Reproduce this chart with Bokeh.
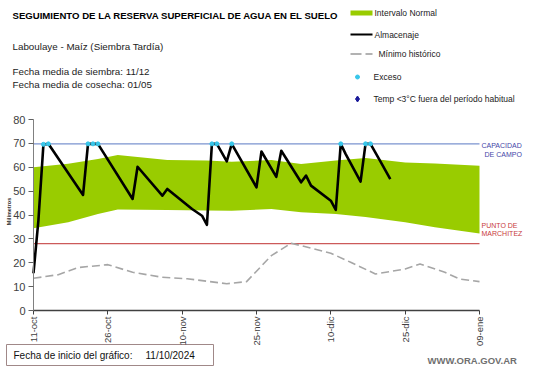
import pandas as pd
from math import pi
from bokeh.plotting import figure
from bokeh.models import Range1d, FixedTicker
from bokeh.core.properties import value
from bokeh.embed import file_html
from bokeh.resources import INLINE

# ---------------- data ----------------
START = "2024-10-11"
END = "2025-01-09"
tick_dates = ["2024-10-11", "2024-10-26", "2024-11-10", "2024-11-25",
              "2024-12-10", "2024-12-25", "2025-01-09"]
tick_labels = ["11-oct", "26-oct", "10-nov", "25-nov", "10-dic", "25-dic", "09-ene"]
y_ticks = [0, 10, 20, 30, 40, 50, 60, 70, 80]

normal_dates = ["2024-10-11", "2024-10-18", "2024-10-24", "2024-10-28", "2024-11-02",
                "2024-11-07", "2024-11-15", "2024-11-20", "2024-11-28", "2024-12-04",
                "2024-12-11", "2024-12-17", "2024-12-25", "2024-12-31", "2025-01-09"]
normal_upper = [60.0, 61.5, 63.5, 65.1, 64.1, 63.0, 62.8, 62.3, 63.0, 61.4,
                62.8, 63.9, 62.0, 61.6, 60.6]
normal_lower = [34.4, 37.0, 40.4, 42.3, 42.2, 42.1, 41.9, 41.8, 42.5, 41.1,
                40.4, 39.2, 37.0, 34.9, 32.3]

storage_dates = ["2024-10-11", "2024-10-12", "2024-10-13", "2024-10-14", "2024-10-21",
                 "2024-10-22", "2024-10-24", "2024-10-31", "2024-11-01", "2024-11-06",
                 "2024-11-07", "2024-11-12", "2024-11-14", "2024-11-15", "2024-11-16",
                 "2024-11-17", "2024-11-19", "2024-11-20", "2024-11-25", "2024-11-26",
                 "2024-11-29", "2024-11-30", "2024-12-04", "2024-12-05", "2024-12-06",
                 "2024-12-10", "2024-12-11", "2024-12-12", "2024-12-13", "2024-12-16",
                 "2024-12-17", "2024-12-18", "2024-12-20", "2024-12-22"]
storage_values = [15.6, 38.0, 69.5, 69.8, 48.4,
                  69.8, 69.8, 46.7, 60.2, 48.1,
                  50.9, 42.5, 39.7, 35.9, 69.8,
                  69.8, 62.5, 69.8, 51.6, 66.6,
                  56.0, 66.9, 53.7, 56.5, 52.3,
                  46.0, 42.1, 69.8, 65.5, 54.0,
                  69.8, 69.8, 62.5, 55.0]

min_dates = ["2024-10-11", "2024-10-16", "2024-10-20", "2024-10-26", "2024-10-31",
             "2024-11-06", "2024-11-11", "2024-11-19", "2024-11-23", "2024-11-28",
             "2024-12-02", "2024-12-10", "2024-12-14", "2024-12-19", "2024-12-25",
             "2024-12-28", "2025-01-02", "2025-01-05", "2025-01-09"]
min_values = [13.5, 15.0, 18.0, 19.2, 16.0, 13.9, 13.3, 11.2, 12.1, 23.0,
              28.2, 24.0, 20.2, 15.3, 17.4, 19.5, 16.0, 13.2, 12.1]

excess_dates = ["2024-10-13", "2024-10-14", "2024-10-22", "2024-10-23", "2024-10-24",
                "2024-11-16", "2024-11-17", "2024-11-20", "2024-12-12",
                "2024-12-17", "2024-12-18"]
excess_values = [69.6, 69.8, 69.8, 69.8, 69.8, 69.8, 69.8, 69.8, 69.8, 69.8, 69.8]

field_capacity = 69.8
wilting_point = 28.0

title = "SEGUIMIENTO DE LA RESERVA  SUPERFICIAL DE AGUA EN EL SUELO"
subtitle = "Laboulaye - Maíz  (Siembra Tardía)"
info_lines = ["Fecha media de siembra: 11/12", "Fecha media de cosecha: 01/05"]
legend_labels = ["Intervalo Normal", "Almacenaje", "Mínimo histórico", "Exceso",
                 "Temp <3°C fuera del período habitual"]
y_title = "Milímetros"
start_label = "Fecha de inicio del gráfico:"
start_value = "11/10/2024"
site = "WWW.ORA.GOV.AR"


def days(ds):
    return list((pd.to_datetime(ds) - pd.Timestamp(START)).days)


N_DAYS = days([END])[0]

# ---- page geometry (pixels) ----
W, H = 541, 368
FL, FB = 33, 310                  # where the y axis and the x axis are drawn
PX_DAY = 446 / N_DAYS             # pixels per day
PX_MM = 191 / 80                  # pixels per mm


def X(px):
    return (px - FL) / PX_DAY


def Y(py):
    return (FB - py) / PX_MM


p = figure(width=W, height=H, x_range=Range1d(X(0), X(W)),
           y_range=Range1d(Y(H), Y(0)),
           output_backend="svg", toolbar_location=None, min_border=0)
p.grid.visible = False
p.outline_line_color = None
p.background_fill_color = "white"
p.border_fill_color = "white"

p.varea(x=days(normal_dates), y1=normal_lower, y2=normal_upper,
        fill_color="#99cc00", fill_alpha=1)
p.segment(x0=[0], x1=[N_DAYS], y0=[field_capacity], y1=[field_capacity],
          line_color="#7b93cf", line_width=1.3)
p.segment(x0=[0], x1=[N_DAYS], y0=[wilting_point], y1=[wilting_point],
          line_color="#cc5a5a", line_width=1.3)
p.line(days(min_dates), min_values, line_color="#a6a6a6", line_width=1.6,
       line_dash="8 4")
p.line(days(storage_dates), storage_values, line_color="black", line_width=2.6,
       line_join="round")
p.scatter(days(excess_dates), excess_values, size=4, color="#38c6ea")

# axes drawn at fixed data locations
td = days(tick_dates)
p.xaxis.fixed_location = 0
p.yaxis.fixed_location = 0
p.xaxis.ticker = FixedTicker(ticks=td)
p.xaxis.major_label_overrides = {int(d): l for d, l in zip(td, tick_labels)}
p.xaxis.major_label_orientation = pi / 2
p.xaxis.bounds = (0, N_DAYS)
p.yaxis.ticker = FixedTicker(ticks=y_ticks)
p.yaxis.bounds = (0, 80)
for ax in (p.xaxis, p.yaxis):
    ax.minor_tick_line_color = None
    ax.major_tick_in = 0
    ax.major_label_text_font = "Liberation Sans"
    ax.major_label_text_color = "#404040"
p.xaxis.major_tick_out = 4
p.yaxis.major_tick_out = 5
p.xaxis.major_label_text_font_size = "9.5px"
p.yaxis.major_label_text_font_size = "11px"
p.xaxis.major_label_standoff = 2
p.yaxis.major_label_standoff = 3
p.xaxis.axis_line_color = "#404040"
p.xaxis.major_tick_line_color = "#404040"
p.xaxis.axis_line_width = 1.5
p.yaxis.axis_line_color = "#808080"
p.yaxis.major_tick_line_color = "#606060"

AR = "Liberation Sans"


def txt(xs, ys, texts, size, color="#222222", style="normal", font=AR,
        align="left", angle=0.0):
    p.text(x=xs, y=ys, text=texts, text_font=value(font),
           text_font_size=value(size), text_color=color, angle=angle,
           text_font_style=style, text_baseline="middle", text_align=align)


# header texts
txt([X(12)], [Y(15)], [title], "9.6px", "black", "bold")
txt([X(12)], [Y(46)], [subtitle], "9.8px")
txt([X(12), X(12)], [Y(71), Y(84)], info_lines, "9.8px")

# legend
ly = [12.5, 34, 53.5, 76.5, 98.5]
p.quad(left=[X(350)], right=[X(372)], top=[Y(10)], bottom=[Y(15)],
       fill_color="#99cc00", line_color=None)
p.segment(x0=[X(350)], x1=[X(372)], y0=[Y(ly[1])], y1=[Y(ly[1])],
          line_color="black", line_width=2)
p.segment(x0=[X(350)], x1=[X(372)], y0=[Y(ly[2])], y1=[Y(ly[2])],
          line_color="#999999", line_width=1.5, line_dash="11 4")
p.scatter([X(357)], [Y(ly[3])], size=4, color="#38c6ea")
p.scatter([X(357)], [Y(ly[4])], size=6, marker="diamond", color="#1a1a9a")
txt([X(374), X(374), X(378), X(373), X(373)], [Y(v) for v in ly],
    legend_labels, "8.5px")

# right-side reference labels
txt([X(481), X(484)], [Y(145), Y(154)], ["CAPACIDAD", "DE  CAMPO"], "7px", "#4545a8")
txt([X(481), X(481)], [Y(225), Y(233)], ["PUNTO  DE", "MARCHITEZ"], "7px", "#c83c3c")

# y axis title
txt([X(8)], [Y(211)], [y_title], "5.5px", "#333333", "bold", align="center",
    angle=pi / 2)

# footer
p.quad(left=[X(6)], right=[X(213)], top=[Y(344)], bottom=[Y(365)],
       fill_color=None, line_color="#a08888", line_width=1)
txt([X(13)], [Y(355)], [start_label], "10px", "#111111")
txt([X(145)], [Y(355)], [start_value], "10px", "#111111")
txt([X(427)], [Y(360)], [site], "9.5px", "#707070", "bold")

open("out.html", "w").write(file_html(p, INLINE))
